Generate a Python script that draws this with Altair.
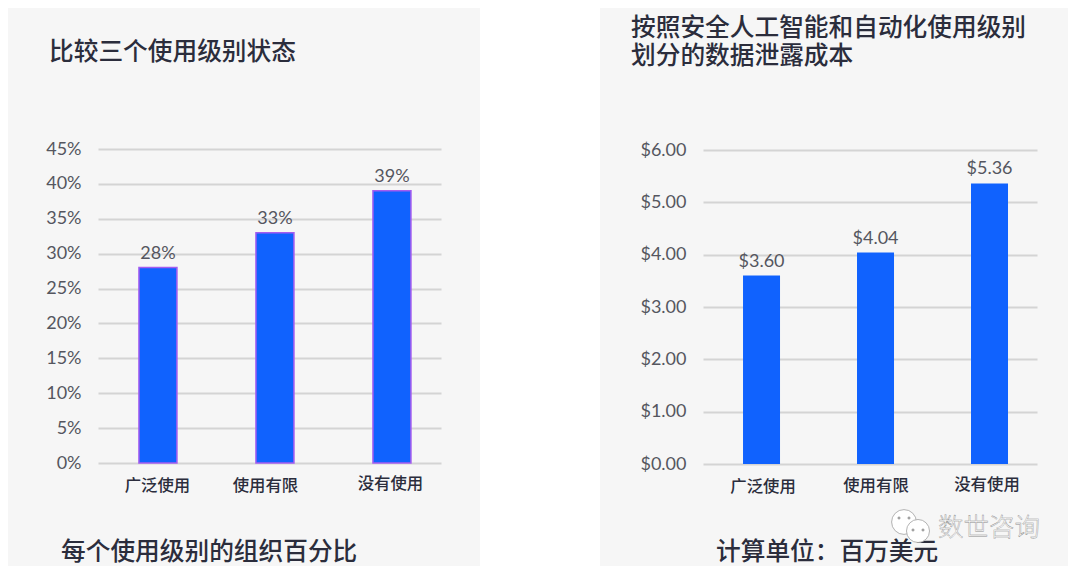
import altair as alt
import pandas as pd

categories = ["广泛使用", "使用有限", "没有使用"]
share_values = [28, 33, 39]
cost_values = [3.60, 4.04, 5.36]
title_left = ["比较三个使用级别状态"]
title_right = ["按照安全人工智能和自动化使用级别", "划分的数据泄露成本"]
footer_left = "每个使用级别的组织百分比"
footer_right = "计算单位：百万美元"
watermark = "数世咨询"

CJK = "Noto Sans CJK SC"
LAT = "Lato"
INK = "#2b2d3c"
BLUE = "#1062fe"
GRID = "#d4d4d4"
LBL = "#55565f"


def note(text, x, y, size=24.7, color=INK, weight=500, align="left", **kw):
    return (
        alt.Chart(alt.Data(values=[{"t": text}]))
        .mark_text(font=CJK, fontSize=size, fontWeight=weight, color=color,
                   align=align, baseline="middle", **kw)
        .encode(x=alt.value(x), y=alt.value(y), text="t:N")
    )


def dot(x, y, size, fill="#ffffff", stroke="#a0a0a0"):
    return (
        alt.Chart(alt.Data(values=[{"a": 1}]))
        .mark_point(shape="circle", filled=True, size=size, fill=fill, stroke=stroke,
                    strokeWidth=0.8, opacity=1)
        .encode(x=alt.value(x), y=alt.value(y))
    )


def panel(values, padding, align, ymax, step, fmt, label_expr, bar_kw, label_dy, offs, pads, yrange):
    df = pd.DataFrame({"cat": categories, "v": values})
    off = {"condition": [{"test": f"datum.label=='{c}'", "value": o}
                         for c, o in zip(categories, offs)], "value": 0}
    pad = {"condition": [{"test": f"datum.label=='{c}'", "value": p}
                         for c, p in zip(categories, pads)], "value": 14}
    x = alt.X("cat:N", sort=categories, title=None,
              scale=alt.Scale(type="point", domain=categories, padding=padding, align=align),
              axis=alt.Axis(labelAngle=0, domain=False, ticks=False, grid=False,
                            labelFont=CJK, labelFontSize=16.4, labelFontWeight=500,
                            labelColor=INK, labelOffset=off, labelPadding=pad,
                            labelOverlap=False))
    y = alt.Y("v:Q", title=None,
              scale=alt.Scale(domain=[0, ymax], nice=False, range=yrange),
              axis=alt.Axis(values=[i * step for i in range(int(round(ymax / step)) + 1)],
                            labelExpr=label_expr, domain=False, ticks=False,
                            gridColor=GRID, gridWidth=2,
                            labelFont=LAT, labelFontSize=18, labelColor=LBL, labelPadding=17))
    base = alt.Chart(df).encode(x=x, y=y)
    bars = base.mark_bar(color=BLUE, **bar_kw)
    labels = base.mark_text(font=LAT, fontSize=18, color=LBL, baseline="bottom", dy=label_dy).encode(
        text=alt.Text("v:Q", format=fmt))
    return bars, labels


bars_l, labels_l = panel(share_values, 0.4658, 0.55, 45, 5, ".0f", "datum.value + '%'",
                         dict(size=38, stroke="#a45cf0", strokeWidth=1.5), -5,
                         [-1, -10, -2], [14, 14, 12], [314, 0])
labels_l = labels_l.encode(text=alt.Text("label:N")).transform_calculate(label="datum.v + '%'")

# the white gutter between the two cards
gutter = (
    alt.Chart(alt.Data(values=[{"a": 1}]))
    .mark_rect(color="#ffffff")
    .encode(x=alt.value(382), x2=alt.value(502), y=alt.value(-141), y2=alt.value(417))
)
# invisible frame that fixes the overall extent of the page
frame = (
    alt.Chart(alt.Data(values=[{"a": 1}]))
    .mark_rect(fill="transparent", stroke="transparent", strokeWidth=0)
    .encode(x=alt.value(-90), x2=alt.value(970), y=alt.value(-141), y2=alt.value(417))
)

left = alt.layer(
    frame, gutter, bars_l, labels_l,
    note(title_left[0], -49, -96),
    note(footer_left, -37, 404),
).properties(width=343, height=314)

bars_r, labels_r = panel(cost_values, 0.465, 0.552, 6, 1, "$.2f",
                         "format(datum.value, '$.2f')",
                         dict(size=37), -5, [1, 0, -3], [14, 13, 12], [315, 1])

right = alt.layer(
    bars_r, labels_r,
    note(title_right[0], -72, -120),
    note(title_right[1], -72, -92),
    note(footer_right, 13, 404),
    dot(201, 373, 615),
    dot(215, 382, 530),
    dot(196, 369, 5, fill="#9a9a9a", stroke="#9a9a9a"),
    dot(206, 369, 5, fill="#9a9a9a", stroke="#9a9a9a"),
    dot(210, 381, 5, fill="#9a9a9a", stroke="#9a9a9a"),
    dot(220, 381, 5, fill="#9a9a9a", stroke="#9a9a9a"),
    note(watermark, 235, 379, size=25.5, color="#ffffff", weight=300, stroke="#8a8a8a", strokeWidth=0.4),
).properties(width=334, height=315)

chart = (
    alt.hconcat(left, right, spacing=262, bounds="flush")
    .resolve_scale(x="independent", y="independent")
    .properties(background="#f6f6f6", padding=0)
    .configure_view(stroke=None)
)

chart.save("out.html", embed_options={"renderer": "svg", "actions": False})
